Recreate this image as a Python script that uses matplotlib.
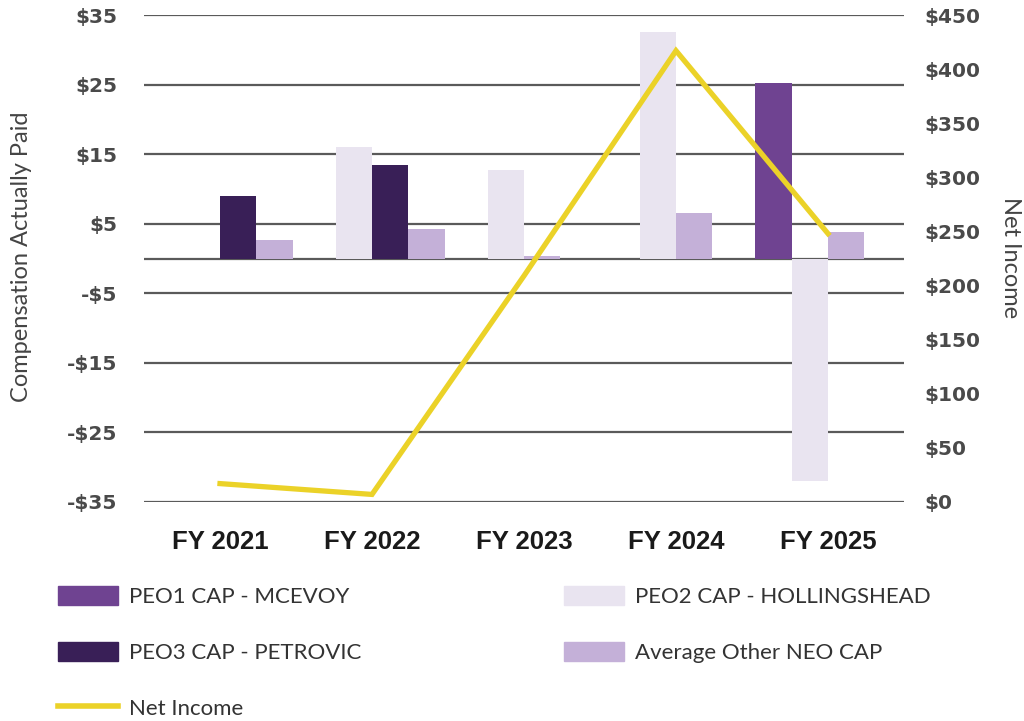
import matplotlib
matplotlib.use("Agg")
import matplotlib.pyplot as plt
import numpy as np
from matplotlib.patches import Patch
from matplotlib.lines import Line2D

years = ["FY 2021", "FY 2022", "FY 2023", "FY 2024", "FY 2025"]
peo1_cap = [None, None, None, None, 25.2]
peo2_cap = [None, 16.0, 12.7, 32.6, -32.0]
peo3_cap = [9.0, 13.4, None, None, None]
avg_neo_cap = [2.6, 4.2, 0.4, 6.5, 3.8]
net_income = [17, 7, 209, 417, 248]

series_names = ["PEO1 CAP - MCEVOY", "PEO2 CAP - HOLLINGSHEAD",
                "PEO3 CAP - PETROVIC", "Average Other NEO CAP"]
colors = ["#6F4391", "#E9E4F0", "#391F57", "#C4B0D8"]
line_color = "#EBD228"

W, H = 1024, 721
fig = plt.figure(figsize=(W / 100, H / 100), dpi=100)
ax = fig.add_axes([144 / W, 1 - 502 / H, 760 / W, 487 / H])
ax2 = ax.twinx()

x = np.arange(len(years))
w = 0.24
peo_slots = [-2, -1, 0]  # fixed slots for PEO series
peo_series = [peo1_cap, peo2_cap, peo3_cap]

for i in range(len(years)):
    last = None
    for s, (vals, slot) in enumerate(zip(peo_series, peo_slots)):
        v = vals[i]
        if v is None:
            continue
        ax.bar(x[i] + slot * w, v, width=w, align="edge", color=colors[s],
               zorder=3, linewidth=0)
        last = slot
    ax.bar(x[i] + (last + 1) * w, avg_neo_cap[i], width=w, align="edge",
           color=colors[3], zorder=3, linewidth=0)

ax.set_xlim(-0.5, 4.5)
ax.set_ylim(-35, 35)
ticks = [35, 25, 15, 5, -5, -15, -25, -35]
ax.set_yticks(ticks)
ax.set_yticklabels([f"${t}" if t >= 0 else f"-${-t}" for t in ticks])
for t in ticks:
    ax.axhline(t, color="#5a5a5a", lw=1.6, zorder=1)
ax.axhline(0, color="#5a5a5a", lw=1.6, zorder=1)

ax2.set_ylim(0, 450)
rt = np.arange(0, 451, 50)
ax2.set_yticks(rt)
ax2.set_yticklabels([f"${t}" for t in rt])
ax2.plot(x, net_income, color=line_color, lw=3.8, zorder=5,
         solid_joinstyle="miter")
ax2.set_zorder(ax.get_zorder() + 1)
ax2.patch.set_visible(False)

for a in (ax, ax2):
    for sp in a.spines.values():
        sp.set_visible(False)
    a.tick_params(length=0)

ax.set_xticks(x)
ax.set_xticklabels(years, fontfamily="Liberation Sans", fontweight="bold",
                   fontsize=18.5, color="#1a1a1a")
ax.tick_params(axis="x", pad=20)
for lab in ax.get_yticklabels():
    lab.set_fontfamily("DejaVu Sans")
    lab.set_fontweight("bold")
    lab.set_fontsize(14.5)
    lab.set_color("#4a4a4a")
ax.tick_params(axis="y", pad=19)
for lab in ax2.get_yticklabels():
    lab.set_fontfamily("DejaVu Sans")
    lab.set_fontweight("bold")
    lab.set_fontsize(14.5)
    lab.set_color("#4a4a4a")
ax2.tick_params(axis="y", pad=15)

fig.text(22 / W, 1 - 257 / H, "Compensation Actually Paid", rotation=90,
         ha="center", va="center", fontfamily="Lato", fontsize=17,
         color="#444444")
fig.text(1010 / W, 1 - 258 / H, "Net Income", rotation=-90,
         ha="center", va="center", fontfamily="Lato", fontsize=17,
         color="#444444")

h = [Patch(color=c) for c in colors]
hl = Line2D([0], [0], color=line_color, lw=4)
leg_kw = dict(frameon=False, prop={"family": "Lato", "size": 16},
              handlelength=2.7, handleheight=0.95, handletextpad=0.5,
              labelspacing=1.55, labelcolor="#333333", borderaxespad=0,
              borderpad=0)
leg1 = fig.legend([h[0], h[2], hl], [series_names[0], series_names[2], "Net Income"],
                  loc="upper left", bbox_to_anchor=(58 / W, 1 - 586 / H), **leg_kw)
leg2 = fig.legend([h[1], h[3]], [series_names[1], series_names[3]],
                  loc="upper left", bbox_to_anchor=(564 / W, 1 - 586 / H), **leg_kw)

fig.savefig("out.png", dpi=100)
